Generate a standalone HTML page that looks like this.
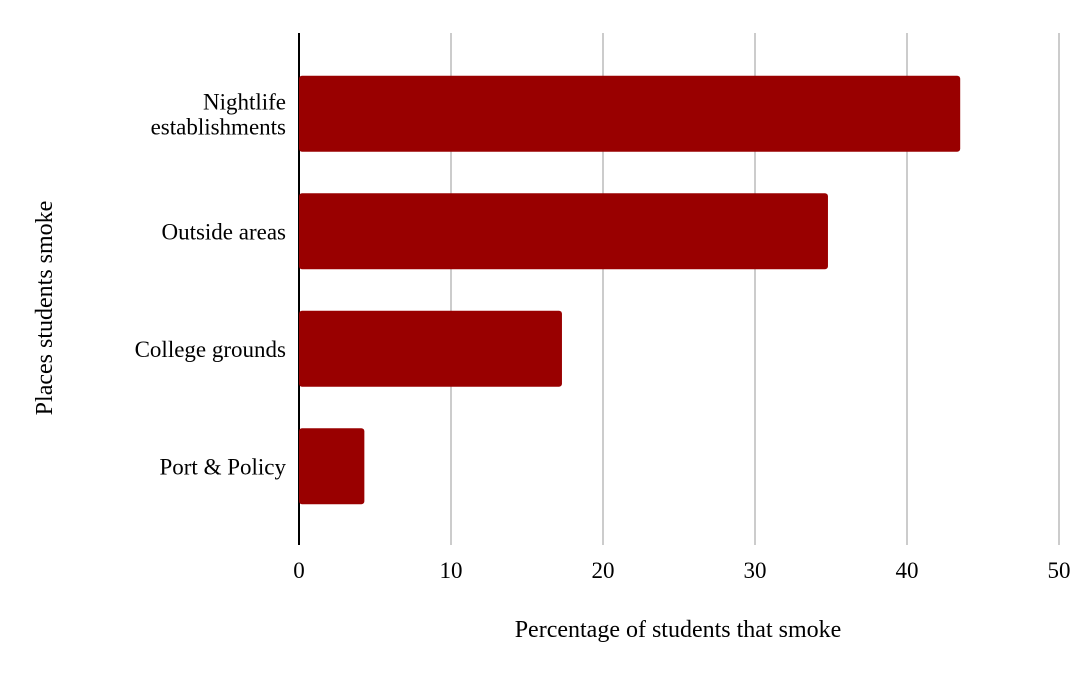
<!DOCTYPE html>
<html><head><meta charset="utf-8"><style>
body{margin:0;background:#fff;}
svg{display:block;font-family:"Liberation Serif",serif;}
</style></head><body>
<svg id="chart" width="1092" height="676">
<g id="grid"></g><g id="bars"></g><g id="labels"></g>
<text x="678" y="637" font-size="24" text-anchor="middle" fill="#000">Percentage of students that smoke</text>
<text transform="translate(52,308) rotate(-90)" font-size="24" text-anchor="middle" fill="#000">Places students smoke</text>
</svg>
<script>
const categories=[["Nightlife","establishments"],["Outside areas"],["College grounds"],["Port & Policy"]];
const values=[43.5,34.8,17.3,4.3];
const ticks=[0,10,20,30,40,50];
const NS="http://www.w3.org/2000/svg";
const x0=299,x1=1059,plotTop=55,band=117.5,barH=76,gTop=33,gBot=545;
const xs=v=>x0+(v-ticks[0])/(ticks[ticks.length-1]-ticks[0])*(x1-x0);
const yc=i=>plotTop+(i+0.5)*band;
function mk(tag,attrs,parent){const e=document.createElementNS(NS,tag);for(const k in attrs)e.setAttribute(k,attrs[k]);parent.appendChild(e);return e;}
const grid=document.getElementById('grid'),bars=document.getElementById('bars'),labels=document.getElementById('labels');
ticks.forEach(t=>{
 if(t!==0){const l=mk('line',{x1:xs(t),x2:xs(t),y1:gTop,y2:gBot,stroke:'#ccc','stroke-width':2},grid);
 
 }
 const tx=mk('text',{x:xs(t),y:578,'font-size':23,'text-anchor':'middle',fill:'#000'},labels);
 tx.textContent=t;
 
 
});
values.forEach((v,i)=>{
 const r=mk('rect',{x:xs(0),y:yc(i)-barH/2,width:xs(v)-xs(0),height:barH,rx:3,fill:'#990000'},bars);
 
 
 const lines=categories[i];
 lines.forEach((s,j)=>{
  const t=mk('text',{x:286,y:yc(i)+8+(j-(lines.length-1)/2)*25,'font-size':23,'text-anchor':'end',fill:'#000'},labels);
  t.textContent=s;
  
  
 });
});
const ax=mk('line',{x1:x0,x2:x0,y1:gTop,y2:gBot,stroke:'#000','stroke-width':2},grid);


</script>
</body></html>
